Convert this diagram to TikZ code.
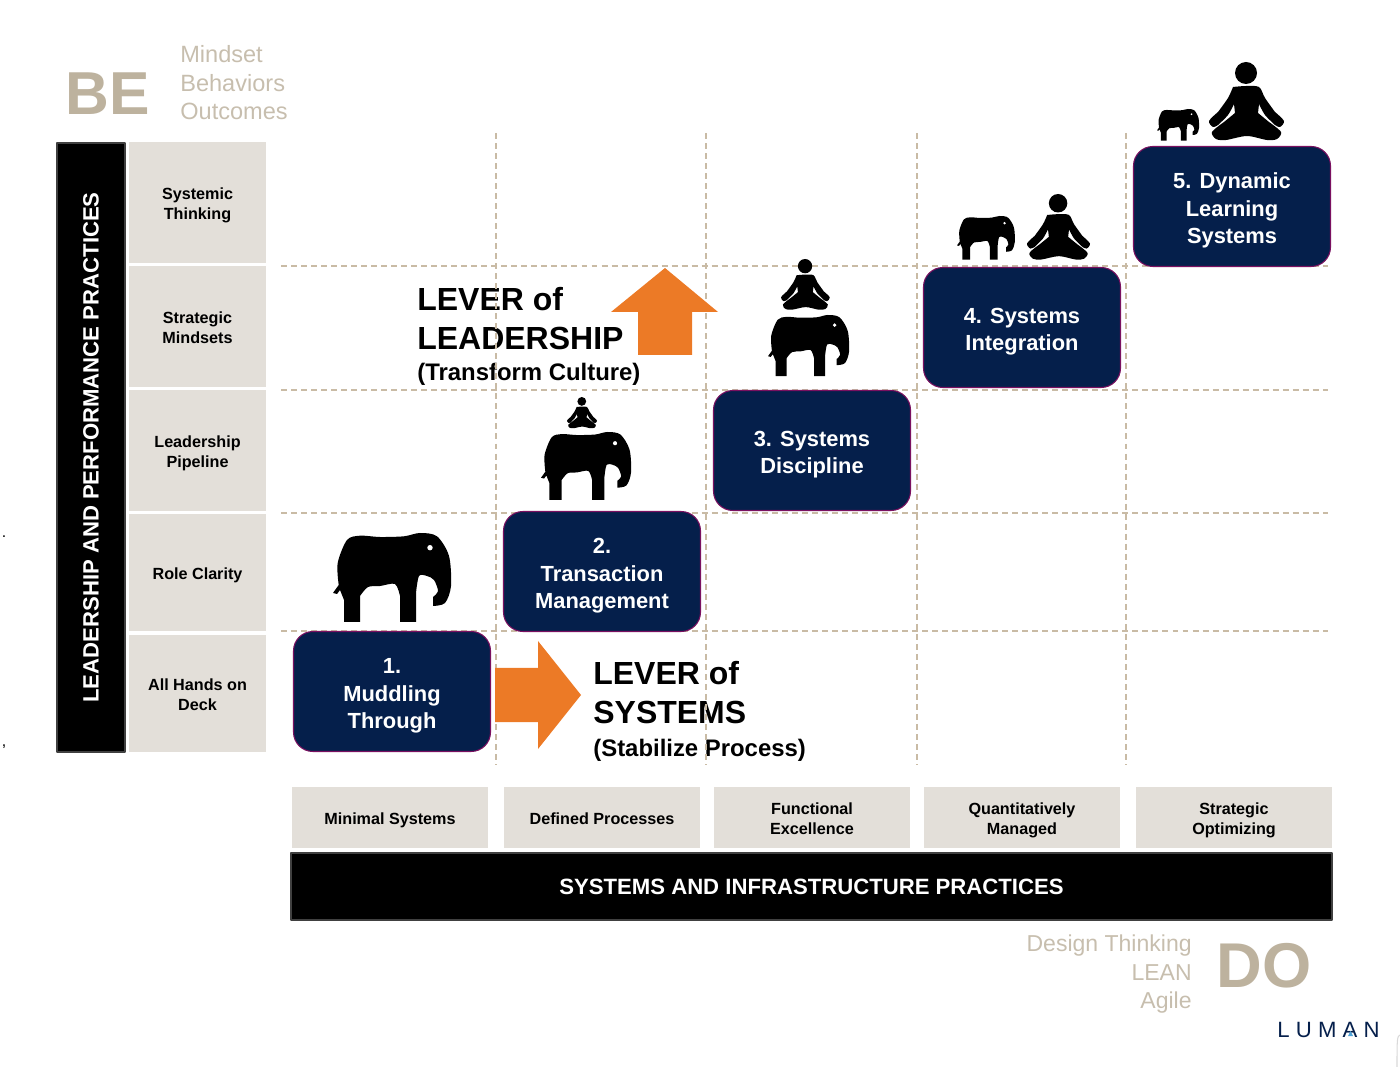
\documentclass[tikz,border=0pt]{standalone}
\usepackage{fontspec}
\setmainfont{Liberation Sans}
\newfontfamily\lumanfont[LetterSpace=28]{Liberation Sans}
\usepackage{xcolor}
\usepackage{tikz}
\definecolor{navybox}{HTML}{051F4B}
\definecolor{plumedge}{HTML}{7A1060}
\definecolor{cellgrey}{HTML}{E3DFD9}
\definecolor{sandword}{HTML}{BDB29E}
\definecolor{sandlight}{HTML}{C7BEAE}
\definecolor{gridsand}{HTML}{C9BBA5}
\definecolor{leverorange}{HTML}{EC7A26}
\definecolor{lumanblue}{HTML}{4FA3D8}
\newcommand{\ctop}{\rule{0pt}{10.2pt}}
\newcommand{\btop}{\rule{0pt}{13.7pt}}
\newcommand{\cbot}{\rule[-2.3pt]{0pt}{1pt}}
\newcommand{\bbot}{\rule[-2.85pt]{0pt}{1pt}}
\tikzset{
  gridline/.style={gridsand,line width=0.65pt,dash pattern=on 3.4pt off 2.3pt},
  cellbox/.style={fill=cellgrey,inner sep=0pt,align=center,text=black,font=\fontsize{9.2}{11.4}\selectfont\bfseries},
  barbox/.style={fill=black,draw=black!75,line width=0.6pt,inner sep=0pt,text=white,font=\fontsize{12.6}{15}\selectfont\bfseries},
  stagebox/.style={fill=navybox,draw=plumedge,line width=0.6pt,rounded corners=11pt,minimum width=3.94cm,minimum height=2.40cm,inner sep=0pt,align=center,text=white,font=\fontsize{12.45}{15.6}\selectfont\bfseries},
  levertitle/.style={anchor=base west,inner sep=0pt,font=\fontsize{18.2}{22}\selectfont\bfseries},
  leversub/.style={anchor=base west,inner sep=0pt,font=\fontsize{13.6}{18}\selectfont\bfseries},
  bigword/.style={anchor=base west,inner sep=0pt,text=sandword,font=\fontsize{34.5}{40}\selectfont\bfseries},
  lightword/.style={inner sep=0pt,text=sandlight,font=\fontsize{13.4}{16}\selectfont},
  elephant/.pic={
    \fill plot[smooth] coordinates {(5.7,52) (4.7,30) (14,7) (27,2.7) (47,4) (71,3.3) (87,0) (104,3.3) (116,23) (118,53) (112,70) (100,73)}
      -- plot[smooth] coordinates {(100,64) (105,58) (101,47) (94,43) (86,43) (83,60)}
      -- (83,89) -- (67,89) -- plot[smooth] coordinates {(67,63) (62,51) (47,53) (35,54) (27,63)}
      -- (27,89) -- (11,89) -- (11,67) -- (7,57) -- (4,61) -- (0,60) -- cycle;
    \fill[white] (97,14.7) circle (2.7);
  },
  sitter/.pic={
    \fill (37,11) circle (11);
    \fill plot[smooth] coordinates {(24,25) (37,24) (50,25) (56,36) (66,50)}
      -- plot[smooth] coordinates {(66,50) (75,59) (71,65) (66,63)}
      -- plot[smooth] coordinates {(66,63) (56,53) (50,42)}
      -- (49,51) -- (60,60)
      -- plot[smooth] coordinates {(60,60) (72,70) (68,77) (58,78) (38,74) (17,78) (7,77) (3,70) (15,60)}
      -- (26,51) -- (25,42)
      -- plot[smooth] coordinates {(25,42) (19,53) (9,63)}
      -- plot[smooth] coordinates {(9,63) (4,65) (0,59) (9,50)}
      -- plot[smooth] coordinates {(9,50) (19,36) (24,25)} -- cycle;
  },
}

\begin{document}
\begin{tikzpicture}[x=0.2mm,y=-0.2mm,line join=round]
  \useasboundingbox (0,0) rectangle (1400,1067);
  % lever captions
  \node[levertitle] (leadone) at (417,311) {LEVER of};
  \node[levertitle] (leadtwo) at (417,350) {LEADERSHIP};
  \node[leversub] (leadsub) at (417,381) {(Transform Culture)};
  \node[levertitle] (sysone) at (593,685) {LEVER of};
  \node[levertitle] (systwo) at (593,724) {SYSTEMS};
  \node[leversub] (syssub) at (593,756) {(Stabilize Process)};
  % grid
  \draw[gridline] (496,133) -- (496,765);
  \draw[gridline] (706,133) -- (706,765);
  \draw[gridline] (917,133) -- (917,765);
  \draw[gridline] (1126,133) -- (1126,765);
  \draw[gridline] (281,266) -- (1328,266);
  \draw[gridline] (281,390) -- (1328,390);
  \draw[gridline] (281,513) -- (1328,513);
  \draw[gridline] (281,631) -- (1328,631);
  % left column
  \node[barbox,rotate=90,minimum width=12.18cm,minimum height=1.36cm] (leadbar) at (91,447.5) {LEADERSHIP AND PERFORMANCE PRACTICES};
  \node[cellbox,minimum width=2.74cm,minimum height=2.42cm] (systemic) at (197.5,202.5) {\ctop Systemic\\Thinking\cbot};
  \node[cellbox,minimum width=2.74cm,minimum height=2.42cm] (strategic) at (197.5,326.5) {\ctop Strategic\\Mindsets\cbot};
  \node[cellbox,minimum width=2.74cm,minimum height=2.42cm] (pipeline) at (197.5,450.5) {\ctop Leadership\\Pipeline\cbot};
  \node[cellbox,minimum width=2.74cm,minimum height=2.34cm] (clarity) at (197.5,572.5) {\ctop Role Clarity\cbot};
  \node[cellbox,minimum width=2.74cm,minimum height=2.34cm] (allhands) at (197.5,693.5) {\ctop All Hands on\\Deck\cbot};
  % bottom row
  \node[cellbox,minimum width=3.92cm,minimum height=1.22cm] (minimal) at (390,817.5) {\ctop Minimal Systems\cbot};
  \node[cellbox,minimum width=3.92cm,minimum height=1.22cm] (defined) at (602,817.5) {\ctop Defined Processes\cbot};
  \node[cellbox,minimum width=3.92cm,minimum height=1.22cm] (functional) at (812,817.5) {\ctop Functional\\Excellence\cbot};
  \node[cellbox,minimum width=3.92cm,minimum height=1.22cm] (managed) at (1022,817.5) {\ctop Quantitatively\\Managed\cbot};
  \node[cellbox,minimum width=3.92cm,minimum height=1.22cm] (optimizing) at (1234,817.5) {\ctop Strategic\\Optimizing\cbot};
  \node[barbox,minimum width=20.82cm,minimum height=1.34cm] (sysbar) at (811.5,886.5) {SYSTEMS AND INFRASTRUCTURE PRACTICES};
  % orange levers
  \fill[leverorange] (495,668) -- (538,668) -- (538,641) -- (581,695) -- (538,749) -- (538,722) -- (495,722) -- cycle;
  \fill[leverorange] (638,355) -- (638,312) -- (611,312) -- (665,268) -- (718,312) -- (692,312) -- (692,355) -- cycle;
  % stages
  \node[stagebox] (stage1) at (392,691.5) {\btop 1.\\Muddling\\Through\bbot};
  \node[stagebox] (stage2) at (602,571.5) {\btop 2.\\Transaction\\Management\bbot};
  \node[stagebox] (stage3) at (812,450.5) {\btop 3. Systems\\Discipline\bbot};
  \node[stagebox] (stage4) at (1022,327.5) {\btop 4. Systems\\Integration\bbot};
  \node[stagebox] (stage5) at (1232,206.5) {\btop 5. Dynamic\\Learning\\Systems\bbot};
  % icons
  \pic (elephant1) at (333,533) {elephant};
  \pic[scale=0.763] (elephant2) at (541,432) {elephant};
  \pic[scale=0.687] (elephant3) at (768,315) {elephant};
  \pic[scale=0.49] (elephant4) at (957,216) {elephant};
  \pic[scale=0.356] (elephant5) at (1157,109) {elephant};
  \pic[scale=0.4] (sitter2) at (567,397) {sitter};
  \pic[scale=0.65] (sitter3) at (781,259) {sitter};
  \pic[scale=0.84] (sitter4) at (1027,194) {sitter};
  \pic (sitter5) at (1209,62) {sitter};
  % be and do
  \node[bigword] (be) at (65,115) {BE};
  \node[lightword,anchor=base west] (mindset) at (180,63) {Mindset};
  \node[lightword,anchor=base west] (behaviors) at (180,92) {Behaviors};
  \node[lightword,anchor=base west] (outcomes) at (180,120) {Outcomes};
  \node[bigword,font=\fontsize{36}{40}\selectfont\bfseries] (do) at (1216,987) {DO};
  \node[lightword,anchor=base east,font=\fontsize{13.1}{16}\selectfont] (design) at (1192,951) {Design Thinking};
  \node[lightword,anchor=base east,font=\fontsize{13.1}{16}\selectfont] (lean) at (1192,980) {LEAN};
  \node[lightword,anchor=base east,font=\fontsize{13.1}{16}\selectfont] (agile) at (1192,1008) {Agile};
  \node[anchor=base west,inner sep=0pt,text=navybox,font=\lumanfont\fontsize{12.6}{15}\selectfont] (luman) at (1277,1037) {LUMAN};
  \fill[lumanblue] (1350.5,1031) -- (1353,1036) -- (1348,1036) -- cycle;
  \node[anchor=base,inner sep=0pt,font=\fontsize{9}{11}\selectfont] (dotmark) at (4,538) {.};
  \node[anchor=base,inner sep=0pt,font=\fontsize{9}{11}\selectfont] (commamark) at (4,746) {,};
  \draw[black!15,line width=0.6pt] (1400,1035) .. controls (1397,1036) and (1397,1040) .. (1397,1067);
\end{tikzpicture}
\end{document}
